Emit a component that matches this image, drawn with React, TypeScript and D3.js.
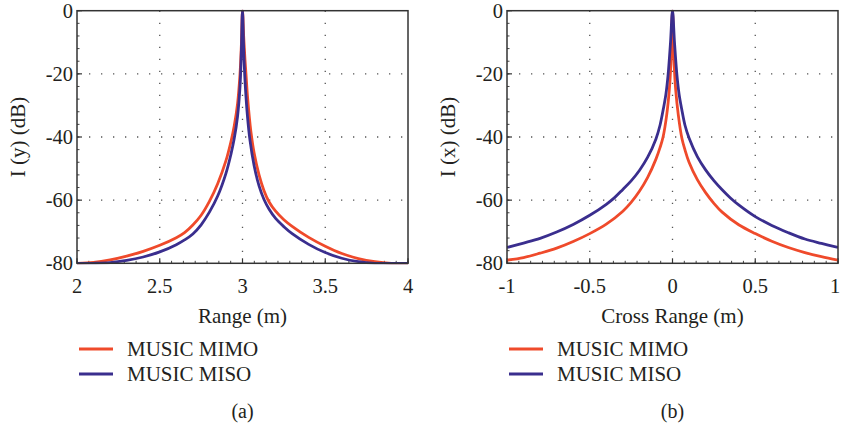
import * as d3 from "d3";

const FONT = '"Liberation Serif", "DejaVu Serif", serif';
const TEXT = "#231f20";
const RED = "#ef4a2b";
const BLUE = "#3a2e8e";

// tick values
const rangeTicks = [2, 2.5, 3, 3.5, 4];
const crossTicks = [-1, -0.5, 0, 0.5, 1];
const dbTicks = [0, -20, -40, -60, -80];

const seriesNames = ["MUSIC MIMO", "MUSIC MISO"];

// (a) range profile, [x (m), dB]
const rangeMimo: [number, number][] = [
  [2.0, -80], [2.1, -79.7], [2.2, -78.9], [2.3, -77.7], [2.4, -76.2], [2.5, -74.3],
  [2.6, -71.9], [2.65, -70.3], [2.7, -67.9], [2.75, -64.8], [2.8, -60.4], [2.85, -54.8],
  [2.9, -47.5], [2.93, -41.5], [2.95, -36.5], [2.97, -29.5], [2.985, -20], [2.993, -11],
  [3.0, 0],
  [3.007, -8], [3.015, -15.5], [3.021, -20], [3.03, -27], [3.04, -33], [3.05, -38],
  [3.07, -45], [3.1, -52], [3.13, -57], [3.16, -60.5], [3.2, -63.5], [3.25, -66.2],
  [3.3, -68.3], [3.4, -71.8], [3.5, -74.6], [3.6, -76.9], [3.7, -78.5], [3.8, -79.5],
  [3.9, -80], [4.0, -80],
];
const rangeMiso: [number, number][] = [
  [2.0, -80], [2.1, -80], [2.2, -79.8], [2.3, -79.1], [2.4, -78], [2.5, -76.4],
  [2.6, -74.1], [2.65, -72.6], [2.7, -70.7], [2.75, -67.8], [2.8, -63.8], [2.85, -58.7],
  [2.9, -51.5], [2.93, -45.5], [2.95, -40.5], [2.97, -33.5], [2.985, -24], [2.993, -13],
  [3.0, 0],
  [3.007, -12], [3.015, -22], [3.03, -33.5], [3.045, -41], [3.07, -49], [3.1, -55.5],
  [3.13, -59.8], [3.16, -62.8], [3.2, -65.8], [3.25, -68.4], [3.3, -70.6], [3.4, -74],
  [3.5, -76.6], [3.6, -78.4], [3.7, -79.5], [3.8, -80], [3.9, -80], [4.0, -80],
];

// (b) cross-range profile, [x (m), dB]
const crossMimo: [number, number][] = [
  [-1, -79], [-0.9, -78.2], [-0.8, -76.8], [-0.7, -75.2], [-0.6, -73.1], [-0.5, -70.6],
  [-0.4, -67.6], [-0.3, -63.5], [-0.25, -60.7], [-0.2, -57.2], [-0.15, -52.8], [-0.1, -47],
  [-0.075, -43.3], [-0.057, -40], [-0.035, -33], [-0.02, -25.5], [-0.01, -17], [0, 0],
  [0.01, -17], [0.02, -25.5], [0.035, -33], [0.057, -40.5], [0.075, -44], [0.1, -48],
  [0.15, -53.5], [0.2, -57.6], [0.25, -61], [0.3, -63.8], [0.4, -67.8], [0.5, -70.6],
  [0.6, -73], [0.7, -75], [0.8, -76.6], [0.9, -77.9], [1, -79],
];
const crossMiso: [number, number][] = [
  [-1, -75], [-0.9, -73.6], [-0.8, -72.1], [-0.7, -70.1], [-0.6, -67.7], [-0.5, -64.8],
  [-0.4, -61.3], [-0.35, -59.2], [-0.3, -56.6], [-0.25, -53.9], [-0.2, -50.6], [-0.15, -46.4],
  [-0.1, -40.6], [-0.075, -36.2], [-0.055, -31], [-0.04, -26.5], [-0.027, -20.5], [-0.012, -10],
  [0, 0], [0.012, -10], [0.027, -20.5], [0.04, -26.5], [0.055, -31], [0.075, -36.2],
  [0.1, -40.3], [0.15, -46.2], [0.2, -50.4], [0.25, -53.8], [0.3, -56.7], [0.35, -59.3],
  [0.4, -61.5], [0.5, -65.2], [0.6, -68], [0.7, -70.3], [0.8, -72.3], [0.9, -73.7], [1, -75],
];

type PanelProps = {
  id: string;
  left: number;
  xTicks: number[];
  xLabel: string;
  yLabel: string;
  caption: string;
  mimo: [number, number][];
  miso: [number, number][];
};

const Panel = ({ id, left, xTicks, xLabel, yLabel, caption, mimo, miso }: PanelProps) => {
  const top = 10.7;
  const width = 331;
  const height = 252.6;

  const x = d3
    .scaleLinear()
    .domain([xTicks[0], xTicks[xTicks.length - 1]])
    .range([left, left + width]);
  const y = d3.scaleLinear().domain([-80, 0]).range([top + height, top]);

  const line = d3
    .line<[number, number]>()
    .x((d) => x(d[0]))
    .y((d) => y(d[1]))
    .curve(d3.curveCatmullRom.alpha(0.5));

  // minor ticks between majors
  const xStep = (xTicks[1] - xTicks[0]) / 7;
  const xMinor = d3.range(xTicks[0], xTicks[xTicks.length - 1] + 1e-9, xStep);
  const yMinor = d3.range(-80, 0 + 1e-9, 4);

  const cx = left + width / 2;

  return (
    <g fontFamily={FONT} fill={TEXT}>
      <defs>
        <clipPath id={"clip-" + id}>
          <rect x={left} y={top - 1} width={width} height={height + 2} />
        </clipPath>
      </defs>

      {/* grid */}
      {xTicks.slice(1, -1).map((t) => (
        <line key={"gx" + t} x1={x(t)} x2={x(t)} y1={top} y2={top + height}
          stroke="#555" strokeWidth={1.3} strokeDasharray="1.3 10.7" />
      ))}
      {dbTicks.slice(1, -1).map((t) => (
        <line key={"gy" + t} x1={left} x2={left + width} y1={y(t)} y2={y(t)}
          stroke="#555" strokeWidth={1.3} strokeDasharray="1.3 10.7" />
      ))}

      {/* minor and major ticks */}
      {xMinor.map((t, i) => (
        <line key={"mx" + i} x1={x(t)} x2={x(t)} y1={top + height} y2={top + height - 2.5}
          stroke="#444" strokeWidth={1} />
      ))}
      {yMinor.map((t, i) => (
        <line key={"my" + i} x1={left} x2={left + 2.5} y1={y(t)} y2={y(t)}
          stroke="#444" strokeWidth={1} />
      ))}
      {xTicks.map((t) => (
        <line key={"tx" + t} x1={x(t)} x2={x(t)} y1={top + height} y2={top + height - 5}
          stroke="#333" strokeWidth={1.2} />
      ))}
      {dbTicks.map((t) => (
        <line key={"ty" + t} x1={left} x2={left + 5} y1={y(t)} y2={y(t)}
          stroke="#333" strokeWidth={1.2} />
      ))}

      {/* curves */}
      <g clipPath={`url(#clip-${id})`}>
        <path d={line(mimo) ?? ""} fill="none" stroke={RED} strokeWidth={2.8} strokeLinejoin="round" />
        <path d={line(miso) ?? ""} fill="none" stroke={BLUE} strokeWidth={2.8} strokeLinejoin="round" />
      </g>

      {/* frame */}
      <rect x={left} y={top} width={width} height={height} fill="none" stroke="#333" strokeWidth={1.5} />

      {/* tick labels */}
      {xTicks.map((t) => (
        <text key={"lx" + t} x={Math.min(x(t), 835)} y={293} fontSize={20.5} textAnchor="middle">
          {String(t)}
        </text>
      ))}
      {dbTicks.map((t) => (
        <text key={"ly" + t} x={left - 4} y={y(t)} dy="0.35em" fontSize={20.5} textAnchor="end">
          {String(t)}
        </text>
      ))}

      {/* axis titles */}
      <text x={cx} y={323} fontSize={21} textAnchor="middle">{xLabel}</text>
      <text transform={`translate(${left - 52},${top + height / 2}) rotate(-90)`}
        fontSize={21} textAnchor="middle">{yLabel}</text>

      {/* legend */}
      {[RED, BLUE].map((c, i) => (
        <g key={"lg" + i}>
          <line x1={left + 2} x2={left + 36} y1={349 + i * 25} y2={349 + i * 25}
            stroke={c} strokeWidth={2.8} />
          <text x={left + 50} y={356 + i * 25} fontSize={21}>{seriesNames[i]}</text>
        </g>
      ))}

      <text x={cx} y={418} fontSize={20} textAnchor="middle">{caption}</text>
    </g>
  );
};

export default function App() {
  return (
    <svg width={841} height={430} style={{ position: "absolute", left: 0, top: 0, background: "#fff" }}>
      <Panel id="a" left={77} xTicks={rangeTicks} xLabel="Range (m)" yLabel="I (y) (dB)" caption="(a)"
        mimo={rangeMimo} miso={rangeMiso} />
      <Panel id="b" left={507} xTicks={crossTicks} xLabel="Cross Range (m)" yLabel="I (x) (dB)" caption="(b)"
        mimo={crossMimo} miso={crossMiso} />
    </svg>
  );
}
